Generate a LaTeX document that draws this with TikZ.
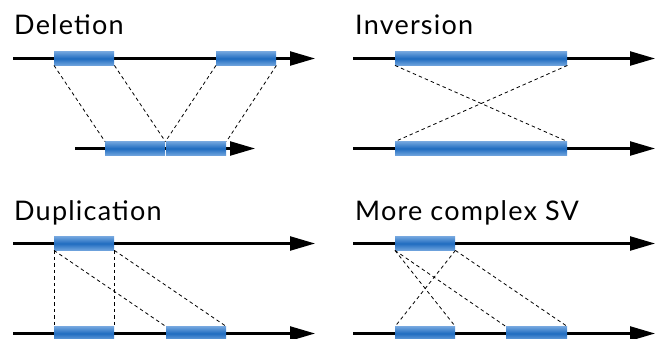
\documentclass[tikz,border=0pt]{standalone}
\usepackage{fontspec}
\setmainfont{Lato}[LetterSpace=4.5]
\usetikzlibrary{arrows.meta}
\definecolor{blk}{HTML}{1F6CC0}
\definecolor{blkedge}{HTML}{6FA3DD}
\begin{document}
\begin{tikzpicture}[x=1pt,y=-1pt,
  title/.style={anchor=base west,inner sep=0pt,font=\fontsize{27}{29}\selectfont},
  chrom/.style={line width=2.3pt,-{Triangle[length=25pt,width=14pt]}},
  sv/.style={anchor=west,inner sep=0pt,minimum height=13.5pt,top color=blkedge,bottom color=blkedge,middle color=blk,draw=none},
  link/.style={dashed,dash pattern=on 3.5pt off 3pt,line width=0.8pt}]
\useasboundingbox (0,0) rectangle (655,339);
% ---------- Deletion ----------
\node[title] (tdel) at (14,35) {Deletion};
\coordinate (d1s) at (13,58.5); \coordinate (d1e) at (315,58.5);
\coordinate (d2s) at (75,148.5); \coordinate (d2e) at (255,148.5);
\draw[chrom] (d1s) -- (d1e);
\draw[chrom] (d2s) -- (d2e);
\node[sv,minimum width=60pt] (da) at (54,58.5) {};
\node[sv,minimum width=60pt] (db) at (216,58.5) {};
\node[sv,minimum width=60pt] (dc) at (105,148.5) {};
\node[sv,minimum width=60pt] (dd) at (166,148.5) {};
\draw[link] (da.south west) -- (dc.north west);
\draw[link] (da.south east) -- (dc.north east);
\draw[link] (db.south west) -- (dc.north east);
\draw[link] (db.south east) -- (dd.north east);
% ---------- Inversion ----------
\node[title] (tinv) at (355,35) {Inversion};
\coordinate (i1s) at (353,58.5); \coordinate (i1e) at (655,58.5);
\coordinate (i2s) at (353,148.5); \coordinate (i2e) at (655,148.5);
\draw[chrom] (i1s) -- (i1e);
\draw[chrom] (i2s) -- (i2e);
\node[sv,minimum width=172pt] (ia) at (395,58.5) {};
\node[sv,minimum width=172pt] (ib) at (395,148.5) {};
\draw[link] (ia.south west) -- (ib.north east);
\draw[link] (ia.south east) -- (ib.north west);
% ---------- Duplication ----------
\node[title] (tdup) at (14,220) {Duplication};
\coordinate (u1s) at (13,243.5); \coordinate (u1e) at (315,243.5);
\coordinate (u2s) at (13,333.5); \coordinate (u2e) at (315,333.5);
\draw[chrom] (u1s) -- (u1e);
\draw[chrom] (u2s) -- (u2e);
\node[sv,minimum width=60pt] (ua) at (54,243.5) {};
\node[sv,minimum width=60pt] (ub) at (54,333.5) {};
\node[sv,minimum width=60pt] (uc) at (166,333.5) {};
\draw[link] (ua.south west) -- (ub.north west);
\draw[link] (ua.south east) -- (ub.north east);
\draw[link] (ua.south west) -- (uc.north west);
\draw[link] (ua.south east) -- (uc.north east);
% ---------- More complex SV ----------
\node[title] (tcx) at (355,220) {More complex SV};
\coordinate (c1s) at (353,243.5); \coordinate (c1e) at (655,243.5);
\coordinate (c2s) at (353,333.5); \coordinate (c2e) at (655,333.5);
\draw[chrom] (c1s) -- (c1e);
\draw[chrom] (c2s) -- (c2e);
\node[sv,minimum width=60pt] (ca) at (395,243.5) {};
\node[sv,minimum width=60pt] (cb) at (395,333.5) {};
\node[sv,minimum width=61pt] (cc) at (506,333.5) {};
\draw[link] (ca.south west) -- (cb.north east);
\draw[link] (ca.south west) -- (cc.north west);
\draw[link] (ca.south east) -- (cb.north west);
\draw[link] (ca.south east) -- (cc.north east);
\end{tikzpicture}
\end{document}
